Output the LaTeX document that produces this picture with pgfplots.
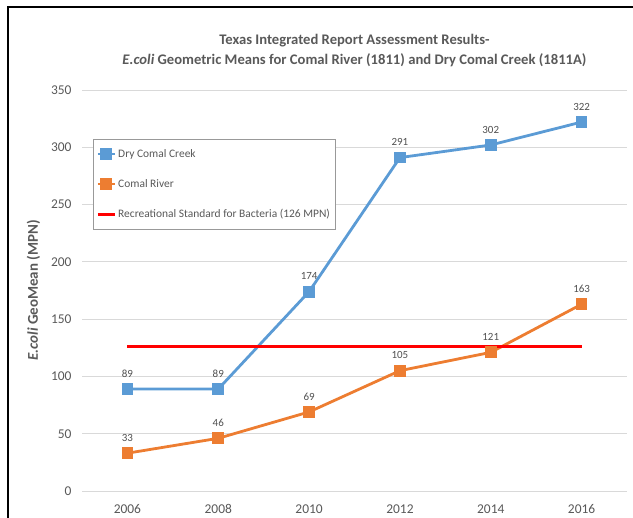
\documentclass[border=0pt]{standalone}
\usepackage{pgfplots}
\pgfplotsset{compat=1.18}
\usepackage{fontspec}
\setmainfont{Carlito}
\definecolor{cblue}{HTML}{5B9BD5}
\definecolor{corange}{HTML}{ED7D31}
\definecolor{ctext}{HTML}{595959}
\definecolor{cgrid}{HTML}{D9D9D9}
\begin{document}
\begin{tikzpicture}[x=1bp,y=1bp]
\path[use as bounding box] (0,0) rectangle (633,518);
\draw[black, line width=2.5bp] (8,0) -- (8,511) -- (633,511);
\begin{axis}[
  at={(82bp,27bp)}, anchor=south west,
  scale only axis, width=545bp, height=401bp,
  xmin=2005, xmax=2017, ymin=0, ymax=350,
  xtick={2006,2008,2010,2012,2014,2016}, ytick={0,50,100,150,200,250,300,350},
  /pgf/number format/1000 sep={},
  /pgf/number format/assume math mode=true,
  axis line style={draw=none}, tick style={draw=none},
  ymajorgrids, grid style={cgrid, line width=0.9bp},
  ticklabel style={font=\fontsize{13.5}{15}\selectfont, text=ctext},
  xticklabel style={yshift=-10bp},
  yticklabel style={xshift=-7bp},
  ylabel={\textbf{\textit{E.coli} GeoMean (MPN)}},
  ylabel style={at={(axis description cs:-0.089,0.5)}, anchor=center, font=\fontsize{15}{17}\selectfont, text=ctext},
  title={\textbf{Texas Integrated Report Assessment Results-}\\\textbf{\textit{E.coli} Geometric Means for Comal River (1811) and Dry Comal Creek (1811A)}},
  title style={at={(axis description cs:0.5,1)}, anchor=south, yshift=14bp, align=center, font=\fontsize{14.7}{20}\selectfont, text=ctext},
  legend style={at={(rel axis cs:0.0202,0.878)}, anchor=north west, draw=gray!80, line width=0.8bp,
    font=\fontsize{11.5}{13}\selectfont, text=ctext, row sep=16.5bp, inner xsep=3bp, inner ysep=8bp},
  legend cell align=left,
  nodes near coords style={font=\fontsize{11}{12}\selectfont, text=ctext!90!black, anchor=south, yshift=7bp},
]
\addplot[cblue, line width=2.8bp, mark=square*, mark size=4.5bp, mark options={solid}, nodes near coords] coordinates {
(2006,89) (2008,89) (2010,174) (2012,291) (2014,302) (2016,322)};
\addlegendentry{Dry Comal Creek}
\addplot[corange, line width=2.8bp, mark=square*, mark size=4.5bp, mark options={solid}, nodes near coords] coordinates {
(2006,33) (2008,46) (2010,69) (2012,105) (2014,121) (2016,163)};
\addlegendentry{Comal River}
\addplot[red, line width=2.8bp] coordinates {(2006,126) (2016,126)};
\addlegendentry{Recreational Standard for Bacteria (126 MPN)}
\end{axis}
\end{tikzpicture}
\end{document}
